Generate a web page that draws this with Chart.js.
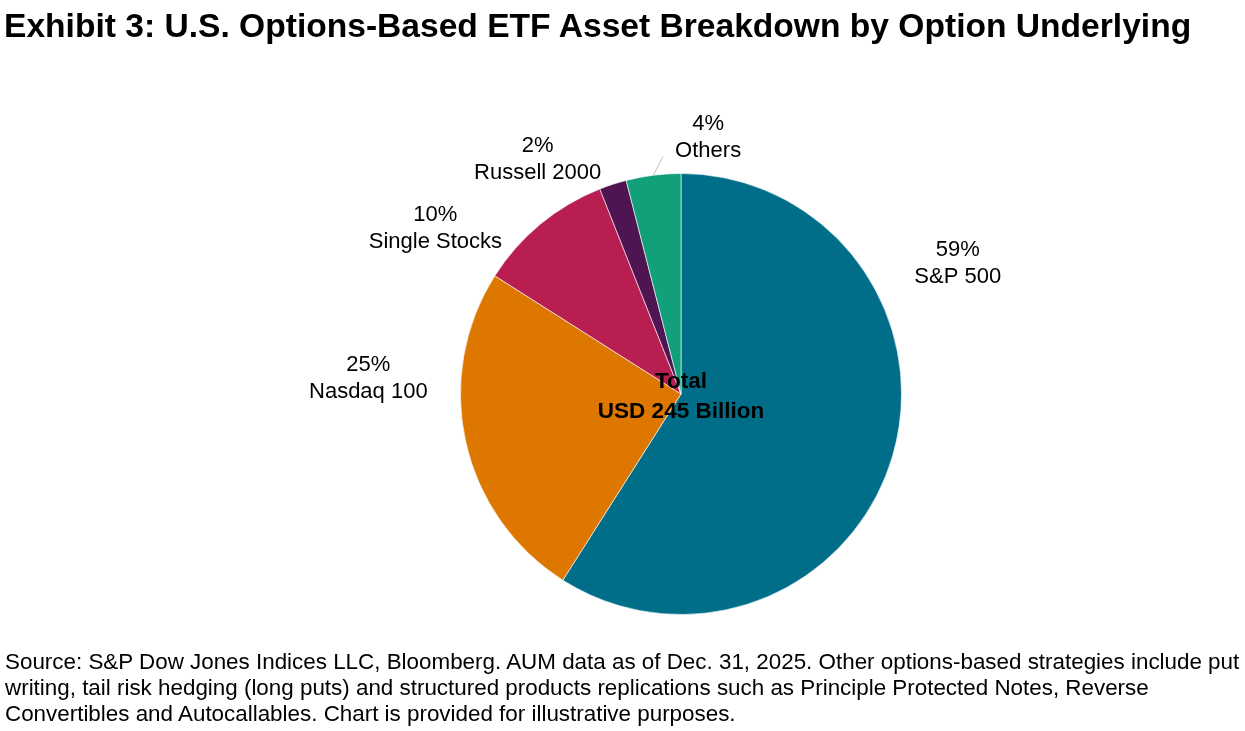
<!DOCTYPE html>
<html>
<head>
<meta charset="utf-8">
<script src="https://cdn.jsdelivr.net/npm/chart.js@4.4.1/dist/chart.umd.min.js"></script>
<style>
  html, body { margin: 0; padding: 0; background: #fff; }
  body { width: 1245px; height: 731px; position: relative; overflow: hidden; font-family: "Liberation Sans", Arial, sans-serif; color: #000; }
  #title { position: absolute; left: 4px; top: 7px; font-size: 33.6px; line-height: 38px; font-weight: bold; white-space: nowrap; }
  #note { position: absolute; left: 5px; top: 649px; font-size: 22.4px; line-height: 26px; white-space: nowrap; }
  #wrap { position: absolute; left: 0; top: 0; width: 1245px; height: 731px; }
</style>
</head>
<body>
<div id="wrap"><canvas id="pie"></canvas></div>
<div id="title">Exhibit 3: U.S. Options-Based ETF Asset Breakdown by Option Underlying</div>
<div id="note">Source: S&amp;P Dow Jones Indices LLC, Bloomberg. AUM data as of Dec. 31, 2025. Other options-based strategies include put<br>writing, tail risk hedging (long puts) and structured products replications such as Principle Protected Notes, Reverse<br>Convertibles and Autocallables. Chart is provided for illustrative purposes.</div>
<script>
const categories = ['S&P 500', 'Nasdaq 100', 'Single Stocks', 'Russell 2000', 'Others'];
const shares = [59, 25, 10, 2, 4];
const sliceColors = ['#006E89', '#DD7700', '#B81F50', '#4E1552', '#12A07A'];
const centerLines = ['Total', 'USD 245 Billion'];

// label anchor, in pie radii from the center (x right, y down)
const labelSpots = [[1.255, -0.592], [-1.418, -0.069], [-1.114, -0.751], [-0.65, -1.065], [0.123, -1.165]];
const leaderEnd = [-0.082, -1.077];

const pieLabels = {
  id: 'pieLabels',
  afterDatasetsDraw(chart) {
    const { ctx } = chart;
    const arcs = chart.getDatasetMeta(0).data;
    const cx = arcs[0].x, cy = arcs[0].y, r = arcs[0].outerRadius;
    ctx.save();
    ctx.fillStyle = '#000';
    ctx.textAlign = 'center';
    ctx.textBaseline = 'middle';
    ctx.font = '22px "Liberation Sans", Arial, sans-serif';
    labelSpots.forEach(([fx, fy], i) => {
      const x = cx + fx * r, y = cy + fy * r;
      ctx.fillText(shares[i] + '%', x, y - 13.5);
      ctx.fillText(categories[i], x, y + 13.5);
    });
    // leader line for the small Others slice
    const a = arcs[4];
    const mid = (a.startAngle + a.endAngle) / 2;
    ctx.strokeStyle = '#bfbfbf';
    ctx.lineWidth = 1;
    ctx.beginPath();
    ctx.moveTo(cx + Math.cos(mid) * r, cy + Math.sin(mid) * r);
    ctx.lineTo(cx + leaderEnd[0] * r, cy + leaderEnd[1] * r);
    ctx.stroke();

    ctx.font = 'bold 22.5px "Liberation Sans", Arial, sans-serif';
    ctx.fillText(centerLines[0], cx, cy - 12);
    ctx.fillText(centerLines[1], cx, cy + 18);
    ctx.restore();
  }
};

document.addEventListener('DOMContentLoaded', () => {
  new Chart(document.getElementById('pie'), {
    type: 'pie',
    data: {
      labels: categories,
      datasets: [{
        data: shares,
        backgroundColor: sliceColors,
        borderColor: 'rgba(255,255,255,0.6)',
        borderWidth: 1,
      }],
    },
    options: {
      responsive: true,
      maintainAspectRatio: false,
      animation: false,
      layout: { padding: { left: 460, right: 343, top: 173, bottom: 116 } },
      plugins: { legend: { display: false }, tooltip: { enabled: false } },
    },
    plugins: [pieLabels],
  });
});
</script>
</body>
</html>
